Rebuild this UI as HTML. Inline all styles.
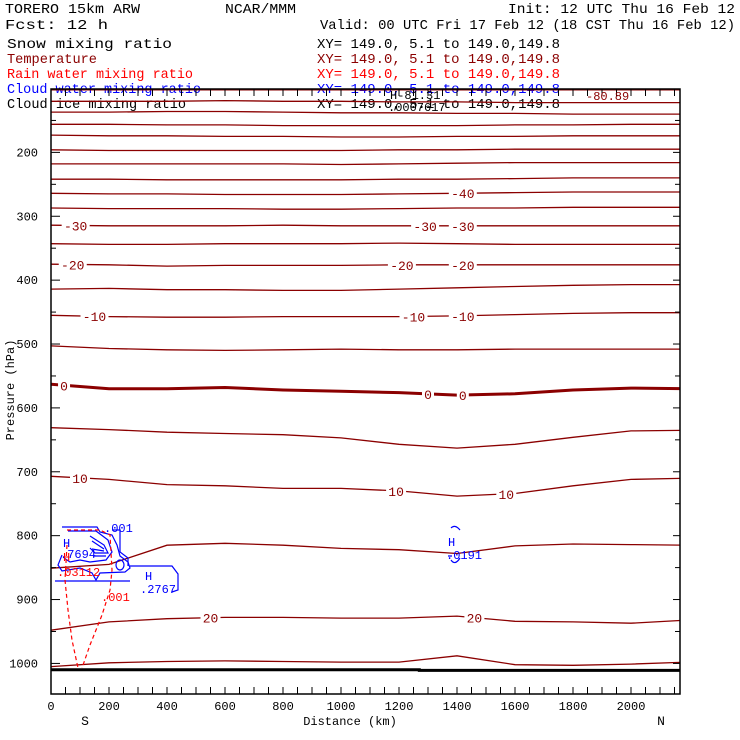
<!DOCTYPE html>
<html><head><meta charset="utf-8"><style>
html,body{margin:0;padding:0;background:#fff;}
svg{display:block;font-family:"Liberation Mono",monospace;}
</style></head><body>
<svg id="chart" width="740" height="740" viewBox="0 0 740 740" xmlns="http://www.w3.org/2000/svg">
<rect width="740" height="740" fill="#fff"/>
<g id="header" font-size="14" fill="#000">
<text x="5" y="13" textLength="135" lengthAdjust="spacingAndGlyphs">TORERO  15km ARW</text>
<text x="225" y="13" textLength="71" lengthAdjust="spacingAndGlyphs">NCAR/MMM</text>
<text x="508" y="13" textLength="227" lengthAdjust="spacingAndGlyphs">Init: 12 UTC Thu 16 Feb 12</text>
<text x="5" y="29" textLength="103" lengthAdjust="spacingAndGlyphs">Fcst:   12 h</text>
<text x="320" y="29" textLength="415" lengthAdjust="spacingAndGlyphs">Valid: 00 UTC Fri 17 Feb 12 (18 CST Thu 16 Feb 12)</text>
<text x="7" y="48" textLength="165" lengthAdjust="spacingAndGlyphs">Snow mixing ratio</text>
<text x="7" y="63" textLength="90" lengthAdjust="spacingAndGlyphs" fill="#8b0000">Temperature</text>
<text x="7" y="78" textLength="186" lengthAdjust="spacingAndGlyphs" fill="#ff0000">Rain water mixing ratio</text>
<text x="7" y="93" textLength="194" lengthAdjust="spacingAndGlyphs" fill="#0000ff">Cloud water mixing ratio</text>
<text x="7" y="108" textLength="179" lengthAdjust="spacingAndGlyphs">Cloud ice mixing ratio</text>
<text x="317" y="48" textLength="243" lengthAdjust="spacingAndGlyphs">XY= 149.0,  5.1 to 149.0,149.8</text>
<text x="317" y="63" textLength="243" lengthAdjust="spacingAndGlyphs" fill="#8b0000">XY= 149.0,  5.1 to 149.0,149.8</text>
<text x="317" y="78" textLength="243" lengthAdjust="spacingAndGlyphs" fill="#ff0000">XY= 149.0,  5.1 to 149.0,149.8</text>
<text x="317" y="93" textLength="243" lengthAdjust="spacingAndGlyphs" fill="#0000ff">XY= 149.0,  5.1 to 149.0,149.8</text>
<text x="317" y="108" textLength="243" lengthAdjust="spacingAndGlyphs">XY= 149.0,  5.1 to 149.0,149.8</text>
</g>
<g id="plot"></g>
<g id="axes"></g>
</svg>
<script>
// ---- data ----
const distNodes = [0,200,400,600,800,1000,1200,1400,1600,1800,2000,2200];
const isoLevels = [-80,-75,-70,-65,-60,-55,-50,-45,-40,-35,-30,-25,-20,-15,-10,-5,0,5,10,15,20,25];
const isoPressures = [
 [102,102,102,102,102,102,102,102,102,102,102,102],
 [120,120,120,119,120,120,121,121,122,122,122,122],
 [137,137,136,136,137,138,138,139,139,140,140,140],
 [156,156,157,157,158,158,158,158,157,157,156,156],
 [173,174,174,175,175,176,176,175,175,174,174,174],
 [196,197,197,197,197,197,196,196,195,195,195,195],
 [218,218,218,218,218,219,218,217,216,216,216,216],
 [242,242,243,243,243,243,242,242,241,240,240,240],
 [264,265,265,266,266,266,265,264,263,262,262,262],
 [287,288,288,288,289,289,288,287,287,286,286,286],
 [314,315,315,315,314,315,315,315,315,315,315,315],
 [343,344,344,343,343,343,342,343,344,344,344,344],
 [375,376,378,377,377,377,376,376,376,376,376,376],
 [414,413,415,415,416,416,414,412,410,408,407,407],
 [455,457,458,458,457,457,457,456,454,452,451,451],
 [503,507,509,510,509,508,509,509,508,508,508,508],
 [563,570,570,568,572,574,576,580,578,572,569,570],
 [631,634,638,640,642,647,657,663,657,646,636,635],
 [707,712,720,722,726,726,730,738,734,722,712,710],
 [851,845,815,812,815,820,822,828,816,813,814,815],
 [948,935,930,928,928,929,929,926,934,935,937,932],
 [1005,999,997,996,997,998,998,988,1002,1003,1001,998]
];
const isoLabelLevels = [-40,-30,-30,-30,-20,-20,-20,-10,-10,-10,0,0,0,10,10,10,20,20];
const isoLabelDists  = [1420,85,1290,1420,75,1210,1420,150,1250,1420,45,1300,1420,100,1190,1570,550,1460];
const surfaceDists = [0,1270,1270,2169];
const surfacePress = [1010,1010,1011,1011];
const xTickLabels = [0,200,400,600,800,1000,1200,1400,1600,1800,2000];
const yTickLabels = [200,300,400,500,600,700,800,900,1000];
</script>
<script>
const svg = document.getElementById('chart');
const plot = document.getElementById('plot');
const axes = document.getElementById('axes');
const NS = 'http://www.w3.org/2000/svg';
const X0 = 51, X1 = 680, Y0 = 89, Y1 = 694;
function xs(km){ return 51 + km*0.29; }
function ys(p){ return 88.5 + (p-100)*0.6388; }
function mk(tag, attrs){ const e=document.createElementNS(NS,tag); for(const k in attrs) e.setAttribute(k,attrs[k]); return e; }
function interpP(arr, km){
  for(let i=0;i<distNodes.length-1;i++){
    if(km>=distNodes[i] && km<=distNodes[i+1]){
      const t=(km-distNodes[i])/(distNodes[i+1]-distNodes[i]);
      return arr[i]+(arr[i+1]-arr[i])*t;
    }
  }
  return arr[arr.length-1];
}
const defs = mk('defs',{});
const cp = mk('clipPath',{id:'pc'});
cp.appendChild(mk('rect',{x:X0,y:Y0,width:X1-X0,height:Y1-Y0}));
defs.appendChild(cp); svg.insertBefore(defs, svg.firstChild);
plot.setAttribute('clip-path','url(#pc)');

isoLevels.forEach((lev, i) => {
  const pts = distNodes.map((d,j)=> xs(d).toFixed(1)+','+ys(isoPressures[i][j]).toFixed(1)).join(' ');
  const pl = mk('polyline',{points:pts,fill:'none',stroke:'#8b0000','stroke-width': lev===0?3:1.3});
  
  
  plot.appendChild(pl);
});
isoLabelLevels.forEach((lev,k)=>{
  const i = isoLevels.indexOf(lev);
  const x = xs(isoLabelDists[k]);
  const y = ys(interpP(isoPressures[i], isoLabelDists[k]));
  const txt = String(lev);
  const w = txt.length*8+4;
  const g = mk('g',{});
  
  
  g.appendChild(mk('rect',{x:x-w/2,y:y-6,width:w,height:12,fill:'#fff'}));
  const t = mk('text',{x:x,y:y+5,'text-anchor':'middle','font-size':13,fill:'#8b0000'});
  t.textContent = txt;
  g.appendChild(t);
  plot.appendChild(g);
});
{
  const pts = surfaceDists.map((d,j)=>xs(d).toFixed(1)+','+ys(surfacePress[j]).toFixed(1)).join(' ');
  const pl = mk('polyline',{points:pts,fill:'none',stroke:'#000','stroke-width':3});
  
  
  plot.appendChild(pl);
}
const blueShapes = [
 'M62,527 L97,527 L100,532 L112,535 L117,545 L120,556 L128,562 L130,568 L125,572 L100,573 L96,580 L92,573 L80,568 L62,571 L58,565 L62,555',
 'M68,531 L96,531 L108,540 L112,552 L106,560 L90,562 L80,560 L70,562 L64,558',
 'M90,536 L104,545 L108,553 L95,553 L90,548',
 'M92,541 L104,549 M92,549 L104,551 M93,556 L106,556',
 'M112,530 L120,530 L120,552 L128,558 L128,566',
 'M116,565 A4,5 0 1,0 124,565 A4,5 0 1,0 116,565',
 'M55,581 L130,581',
 'M130,566 L172,566 L178,574 L178,590 L172,592',
 'M451,528 Q455,524 460,530 M451,560 Q455,566 460,558 M448,556 L452,556'
];
blueShapes.forEach(d=>{
  const p = mk('path',{d:d,fill:'none',stroke:'#0000ff','stroke-width':1.2});
  
  
  plot.appendChild(p);
});
const redShapes = [
 'M67,530 L100,530 L110,535 L112,570 L110,590 L102,615 L90,645 L82,668',
 'M67,545 L65,580 L68,610 L72,640 L78,668'
];
redShapes.forEach(d=>{
  const p = mk('path',{d:d,fill:'none',stroke:'#ff0000','stroke-width':1.2,'stroke-dasharray':'4,3'});
  
  
  plot.appendChild(p);
});
const annot = [
 ['H',63,547,'#0000ff'],['.7694',60,558,'#0000ff'],['.001',104,532,'#0000ff'],
 ['H',63,561,'#ff0000'],['.03112',57,576,'#ff0000'],['H',145,580,'#0000ff'],['.2767',140,593,'#0000ff'],
 ['.001',101,601,'#ff0000'],['H',448,546,'#0000ff'],['.0191',446,559,'#0000ff'],
 ['H-81.31',390,99,'#000'],['.0007617',388,111,'#000'],['-80.89',586,100,'#8b0000']
];
annot.forEach(a=>{
  const t = mk('text',{x:a[1],y:a[2],'font-size':12,fill:a[3]});
  t.textContent = a[0];
  
  
  svg.appendChild(t);
});

const frame = mk('rect',{x:X0,y:Y0,width:X1-X0,height:Y1-Y0,fill:'none',stroke:'#000','stroke-width':1.5});


axes.appendChild(frame);
for(let km=0; km<=2150; km+=50){
  const x = xs(km);
  const l1 = mk('line',{x1:x,y1:Y1,x2:x,y2:Y1-7,stroke:'#000'});
   
  axes.appendChild(l1);
  const l2 = mk('line',{x1:x,y1:Y0,x2:x,y2:Y0+7,stroke:'#000'});
   
  axes.appendChild(l2);
}
xTickLabels.forEach(v=>{
  const t = mk('text',{x:xs(v),y:710,'text-anchor':'middle','font-size':12,fill:'#000'});
  t.textContent = v;
   
  axes.appendChild(t);
});
for(let p=150; p<=1000; p+=50){
  const y = ys(p); const major = p%100===0;
  const l1 = mk('line',{x1:X0,y1:y,x2:X0+(major?9:5),y2:y,stroke:'#000'});
   
  axes.appendChild(l1);
  const l2 = mk('line',{x1:X1,y1:y,x2:X1-(major?7:5),y2:y,stroke:'#000'});
   
  axes.appendChild(l2);
}
yTickLabels.forEach(v=>{
  const t = mk('text',{x:38,y:ys(v)+4,'text-anchor':'end','font-size':12,fill:'#000'});
  t.textContent = v;
   
  axes.appendChild(t);
});
const xt = mk('text',{x:350,y:725,'text-anchor':'middle','font-size':12,fill:'#000'});
xt.textContent='Distance (km)';
 
axes.appendChild(xt);
const yt = mk('text',{x:14,y:390,'text-anchor':'middle','font-size':12,fill:'#000',transform:'rotate(-90 14 390)'});
yt.textContent='Pressure (hPa)';
 
axes.appendChild(yt);
const s = mk('text',{x:85,y:725,'text-anchor':'middle','font-size':13,fill:'#000'});
s.textContent='S';
 
axes.appendChild(s);
const n = mk('text',{x:661,y:725,'text-anchor':'middle','font-size':13,fill:'#000'});
n.textContent='N';
 
axes.appendChild(n);
</script>
</body></html>
